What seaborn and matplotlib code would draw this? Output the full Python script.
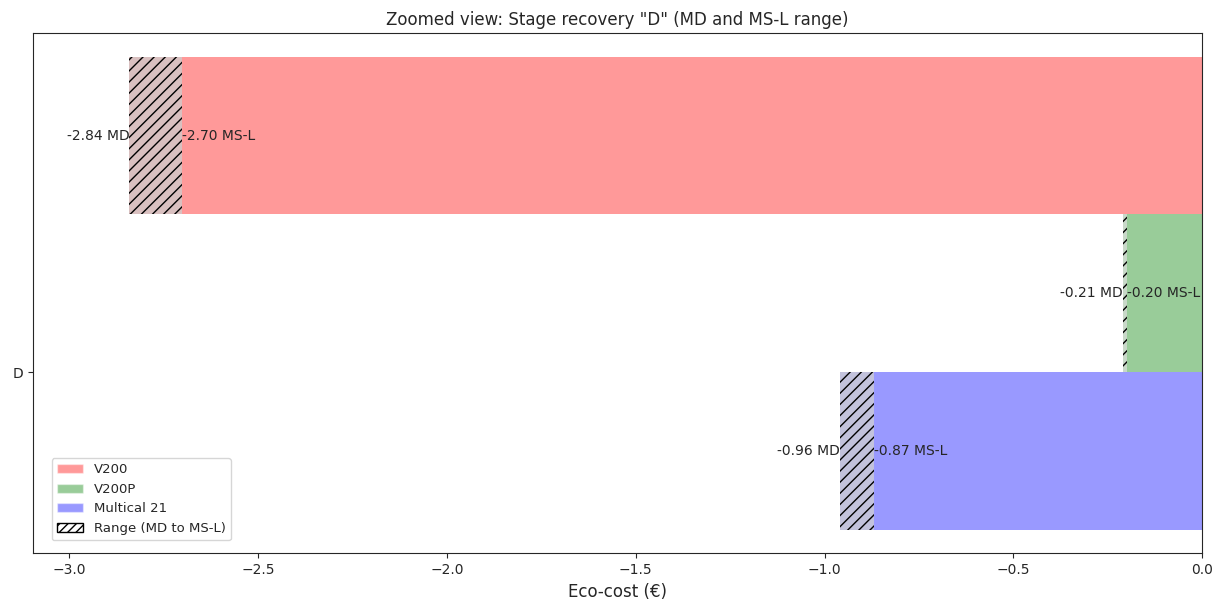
import matplotlib
matplotlib.use("Agg")
import matplotlib.pyplot as plt
from matplotlib.patches import Patch
import seaborn as sns
import numpy as np

sns.set_style("ticks")
plt.rcParams['font.family'] = ['DejaVu Sans']

stage = "D"
devices = ["Multical 21", "V200P", "V200"]
md_values = [-0.96, -0.21, -2.84]
msl_values = [-0.87, -0.20, -2.70]
bar_colors = ["blue", "green", "red"]
hatch_fill = ["#c2c2dc", "#c8d8c8", "#d9c0c0"]
offsets = [-0.125, 0.125, 0.375]

fig, ax = plt.subplots(figsize=(12.17, 6.04), dpi=100)
fig.subplots_adjust(left=0.027, right=0.988, top=0.945, bottom=0.084)

for dev, md, msl, col, hf, off in zip(devices, md_values, msl_values, bar_colors, hatch_fill, offsets):
    ax.barh(off, msl, height=0.25, color=col, alpha=0.4, linewidth=0)
    ax.barh(off, md - msl, left=msl, height=0.25, facecolor=hf, edgecolor="black",
            hatch="///", linewidth=0)
    ax.text(md, off, f"{md:.2f} MD", ha="right", va="center", fontsize=10)
    ax.text(msl, off, f"{msl:.2f} MS-L", ha="left", va="center", fontsize=10)

ax.set_yticks([0])
ax.set_yticklabels([stage])
ax.set_xlim(min(md_values) * 1.09, 0)
ax.set_xlabel("Eco-cost (€)", fontsize=12)
ax.set_title('Zoomed view: Stage recovery "D" (MD and MS-L range)', fontsize=12)
ax.tick_params(labelsize=10)

handles = [Patch(facecolor="red", alpha=0.4, label="V200"),
           Patch(facecolor="green", alpha=0.4, label="V200P"),
           Patch(facecolor="blue", alpha=0.4, label="Multical 21"),
           Patch(facecolor="white", edgecolor="black", hatch="////", label="Range (MD to MS-L)")]
ax.legend(handles=handles, loc="lower left", fontsize=9.5,
          bbox_to_anchor=(0.016, 0.025), borderaxespad=0)

fig.savefig("out.png", dpi=100)
